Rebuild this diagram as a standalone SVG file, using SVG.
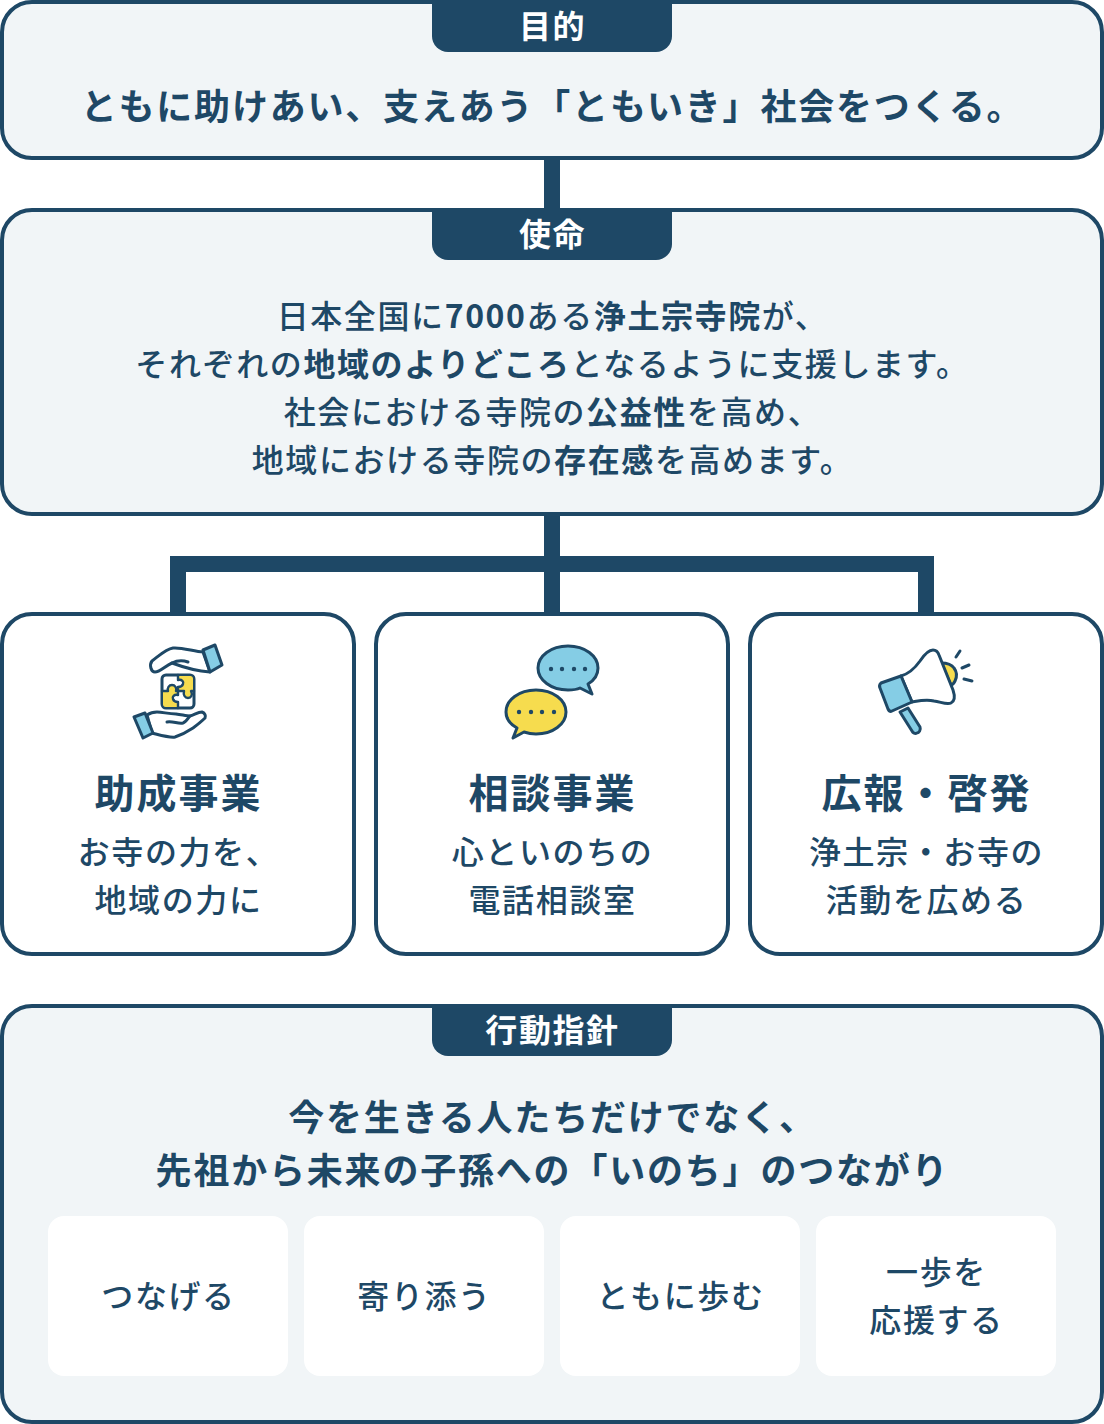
<svg xmlns="http://www.w3.org/2000/svg" width="1104" height="1424" viewBox="0 0 1104 1424">
<style>
text{font-family:"Noto Sans CJK JP","Noto Sans",sans-serif;fill:#1e4866;text-anchor:middle}
.panel{fill:#f1f5f7;stroke:#1e4866;stroke-width:4}
.card{fill:#fff;stroke:#1e4866;stroke-width:4}
.tab{fill:#1e4866}
.tabt{fill:#fff;font-size:32px;font-weight:700;letter-spacing:1.6px}
.lead{font-size:36px;font-weight:700;letter-spacing:1.8px}
.body{font-size:32px;font-weight:500;letter-spacing:1.6px}
.body tspan{font-weight:700}
.h{font-size:40px;font-weight:700;letter-spacing:2px}
.sub{font-size:32px;font-weight:500;letter-spacing:1.6px}
.chip{fill:#fff}
.ic{stroke:#1e4866;stroke-width:3;stroke-linejoin:round;stroke-linecap:round;fill:#fff}
.thin{stroke-width:2.4}
.bl{fill:#85cde5}
.ye{fill:#f6dc4e}
.dot{fill:#1e4866;stroke:none}
.none{fill:none}
</style>
<g id="connectors" fill="#1e4866">
<rect x="544" y="158" width="16" height="52"/>
<rect x="544" y="514" width="16" height="100"/>
<rect x="170" y="556" width="764" height="16"/>
<rect x="170" y="556" width="16" height="58"/>
<rect x="918" y="556" width="16" height="58"/>
</g>
<g id="purpose">
<rect class="panel" x="2" y="2" width="1100" height="156" rx="30"/>
<path class="tab" d="M432 2H672V36a16 16 0 0 1-16 16H448a16 16 0 0 1-16-16Z"/>
<text class="tabt" x="552.5" y="38">目的</text>
<text class="lead" x="552.5" y="120">ともに助けあい、支えあう「ともいき」社会をつくる。</text>
</g>
<g id="mission">
<rect class="panel" x="2" y="210" width="1100" height="304" rx="30"/>
<path class="tab" d="M432 210H672V244a16 16 0 0 1-16 16H448a16 16 0 0 1-16-16Z"/>
<text class="tabt" x="552.5" y="246">使命</text>
<text class="body" x="552.5" y="328">日本全国に<tspan>7000</tspan>ある<tspan>浄土宗寺院</tspan>が、</text>
<text class="body" x="552.5" y="376">それぞれの<tspan>地域のよりどころ</tspan>となるように支援します。</text>
<text class="body" x="552.5" y="424">社会における寺院の<tspan>公益性</tspan>を高め、</text>
<text class="body" x="552.5" y="472">地域における寺院の<tspan>存在感</tspan>を高めます。</text>
</g>
<g id="card-grants">
<rect class="card" x="2" y="614" width="352" height="340" rx="30"/>
<g class="ic">
<path d="M203 652C195 652 182 647 173 648C166 649 160 655 152 661C149 665 151 672 155 672C160 672 165 666 172 663C180 666 195 671 210 672Z"/>
<path class="none" d="M172 663C178 660 182 660 188 662"/>
<path class="bl" d="M203 650L215 645L222 665L210 672Z"/>
<rect x="162" y="675" width="32" height="33" rx="4"/>
<path class="ye" style="stroke:none" d="M178 676H190Q193 676 193 679V691H191C193 695 191 698 188 698C185 698 183 695 184 691H178V687C180 687 182 687 183 684C184 682 182 679 178 680Z"/>
<path class="ye" style="stroke:none" d="M178 707H166Q163 707 163 704V691H168C167 688 169 685 172 685C175 685 177 688 176 691H178V695C174 694 172 697 173 699C174 702 176 702 178 702Z"/>
<path class="none thin" d="M178 675V680C182 679 184 682 183 684C182 687 180 687 178 687V695C174 694 172 697 173 699C174 702 176 702 178 702V708M162 691H168C167 688 169 685 172 685C175 685 177 688 176 691H184C183 695 185 698 188 698C191 698 193 695 191 691H194"/>
<path d="M147 715C150 713 154 712 157 712C163 712 168 714 176 714C183 715 187 716 190 716C194 715 198 712 202 712C205 713 206 716 205 718C201 722 197 725 193 728C187 732 181 735 175 737C170 738 160 735 152 733Z"/>
<path class="none" d="M167 722C173 721 178 724 183 723C186 722 188 718 190 716"/>
<path class="bl" d="M134 717L145 713L153 733L143 738Z"/>
</g>
<text class="h" x="178.5" y="808">助成事業</text>
<text class="sub" x="178.5" y="864">お寺の力を、</text>
<text class="sub" x="178.5" y="912">地域の力に</text>
</g>
<g id="card-consult">
<rect class="card" x="376" y="614" width="352" height="340" rx="30"/>
<g class="ic">
<path class="bl" d="M568 646C585 646 598 656 598 668C598 676 593 681 588 684L592 694L580 688C576 690 572 690 568 690C551 690 538 680 538 668C538 656 551 646 568 646Z"/>
<path class="ye" d="M536 690C553 690 566 700 566 712C566 724 553 734 536 734C531 734 527 733 524 732L513 738L517 728C510 724 506 719 506 712C506 700 519 690 536 690Z"/>
</g>
<g class="dot">
<circle cx="551" cy="669" r="2.2"/><circle cx="562" cy="669" r="2.2"/><circle cx="574" cy="669" r="2.2"/><circle cx="585" cy="669" r="2.2"/>
<circle cx="519" cy="712" r="2.2"/><circle cx="531" cy="712" r="2.2"/><circle cx="542" cy="712" r="2.2"/><circle cx="554" cy="712" r="2.2"/>
</g>
<text class="h" x="552.5" y="808">相談事業</text>
<text class="sub" x="552.5" y="864">心といのちの</text>
<text class="sub" x="552.5" y="912">電話相談室</text>
</g>
<g id="card-pr">
<rect class="card" x="750" y="614" width="352" height="340" rx="30"/>
<g class="ic">
<path class="ye" d="M941 663C947 663 952 665 954 668C957 672 957 677 955 681C954 683 952 685 951 685Z"/>
<path class="bl" d="M900 712L908 708L920 727C921 730 919 733 917 733C915 734 913 733 912 731Z"/>
<path d="M901 676C908 674 915 668 920 661C924 655 928 650 933 650C936 650 938 652 939 655L953 690C955 696 955 701 951 703C947 705 941 702 934 701C926 699 918 701 912 702Z"/>
<path class="bl" d="M881 683L901 676L912 702L892 711C890 712 889 711 888 709L880 688C879 686 880 684 881 683Z"/>
<path class="none" d="M960 651L956 657M969 665L962 668M972 681L964 679"/>
</g>
<text class="h" x="926.5" y="808">広報・啓発</text>
<text class="sub" x="926.5" y="864">浄土宗・お寺の</text>
<text class="sub" x="926.5" y="912">活動を広める</text>
</g>
<g id="action">
<rect class="panel" x="2" y="1006" width="1100" height="416" rx="30"/>
<path class="tab" d="M432 1006H672V1040a16 16 0 0 1-16 16H448a16 16 0 0 1-16-16Z"/>
<text class="tabt" x="552.5" y="1042">行動指針</text>
<text class="lead" x="552.5" y="1131">今を生きる人たちだけでなく、</text>
<text class="lead" x="552.5" y="1184">先祖から未来の子孫への「いのち」のつながり</text>
</g>
<g id="chip-1"><rect class="chip" x="48" y="1216" width="240" height="160" rx="16"/><text class="sub" x="168.5" y="1308">つなげる</text></g>
<g id="chip-2"><rect class="chip" x="304" y="1216" width="240" height="160" rx="16"/><text class="sub" x="424.5" y="1308">寄り添う</text></g>
<g id="chip-3"><rect class="chip" x="560" y="1216" width="240" height="160" rx="16"/><text class="sub" x="680.5" y="1308">ともに歩む</text></g>
<g id="chip-4"><rect class="chip" x="816" y="1216" width="240" height="160" rx="16"/><text class="sub" x="936.5" y="1284">一歩を</text><text class="sub" x="936.5" y="1332">応援する</text></g>
</svg>
